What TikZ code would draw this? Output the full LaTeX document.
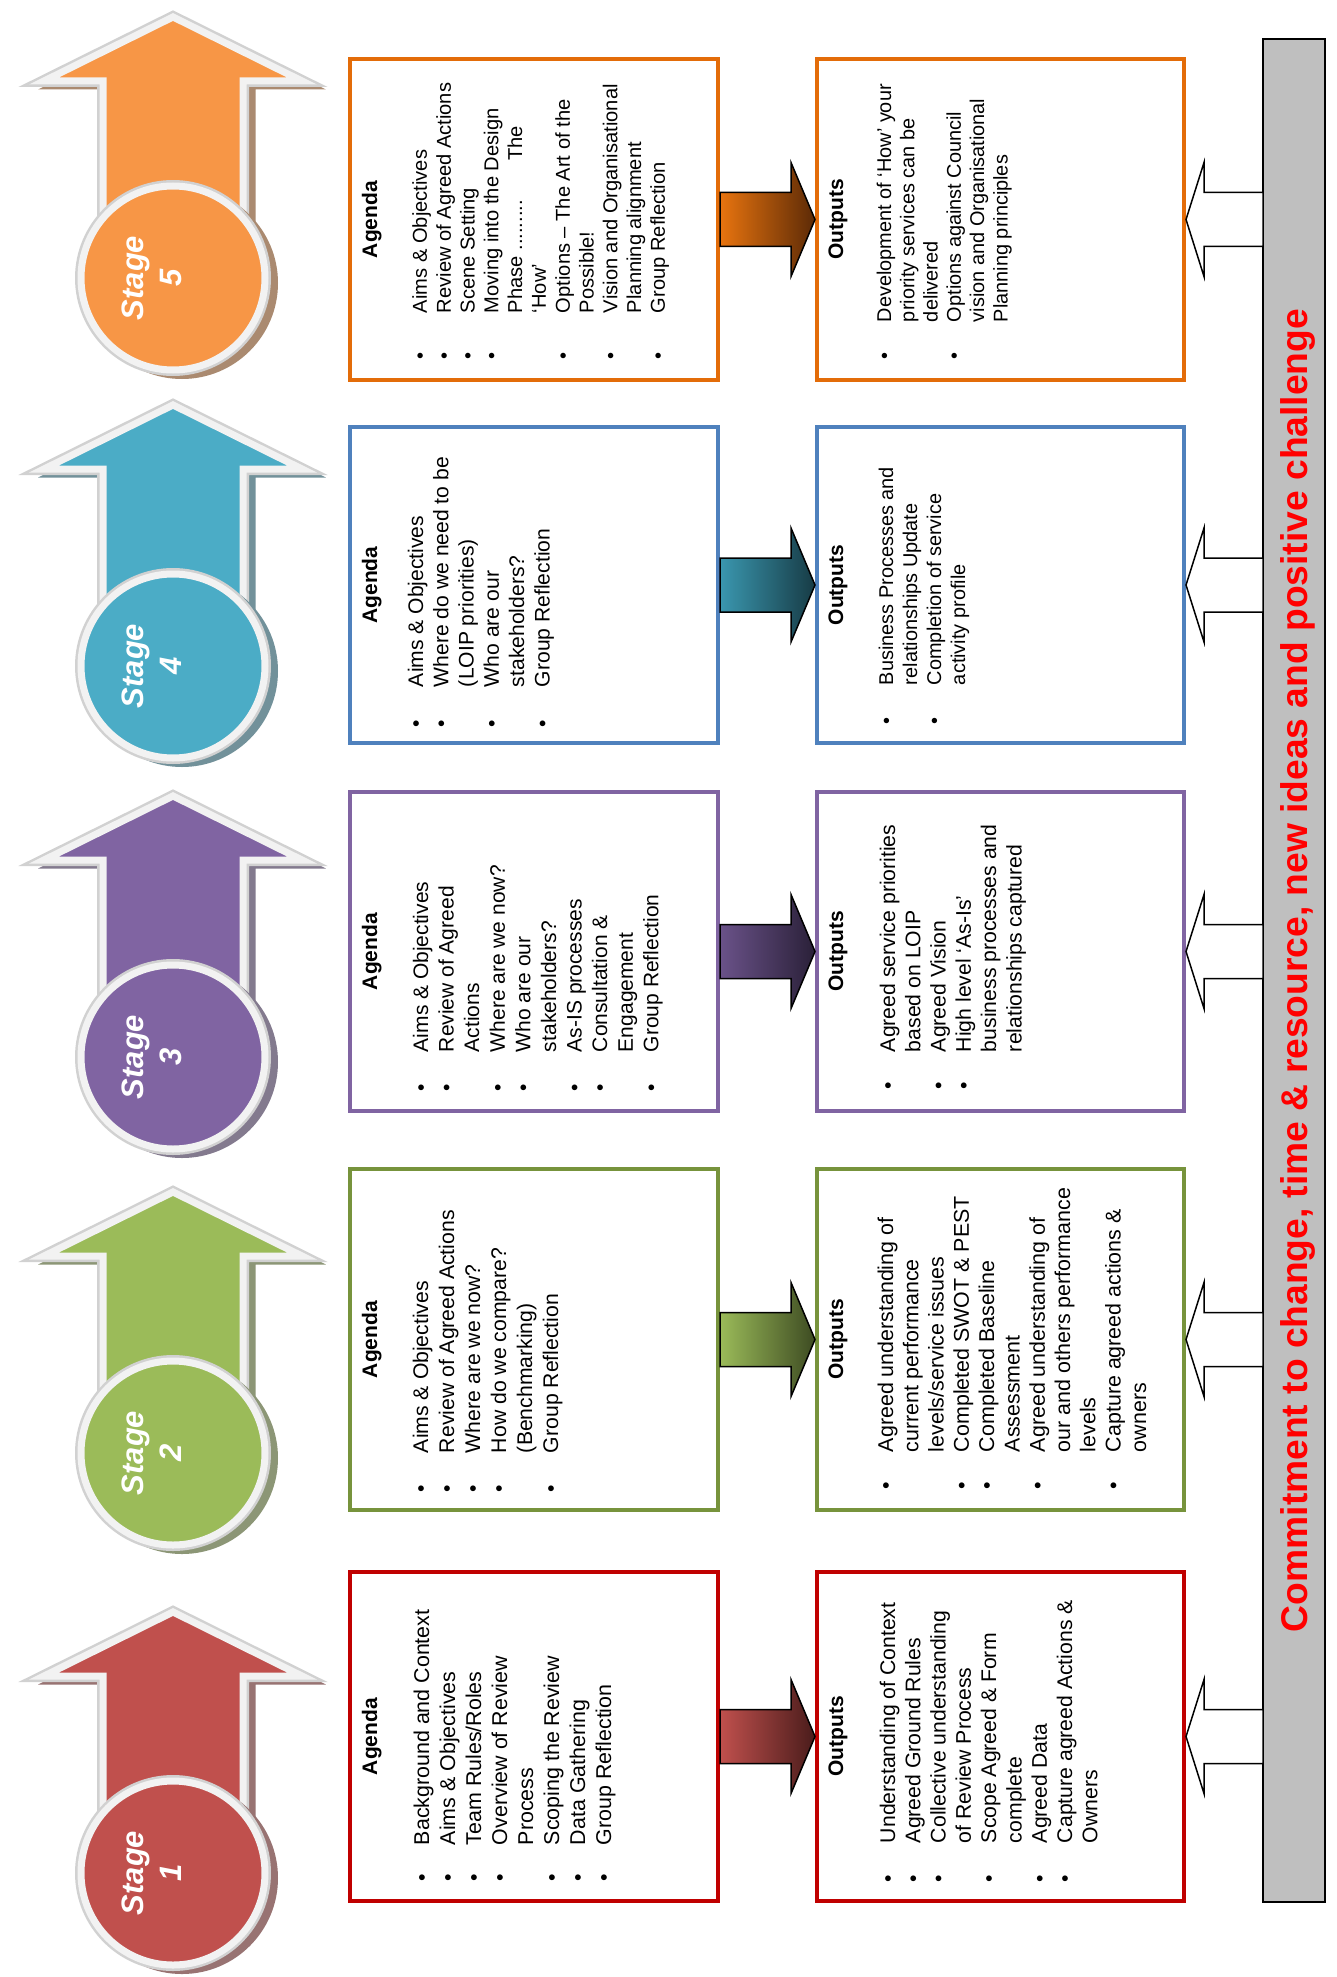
\documentclass[tikz,border=0pt]{standalone}
\usepackage{fontspec}
\setmainfont{Liberation Sans}
\usetikzlibrary{calc}
\definecolor{b1}{HTML}{C00000}
\definecolor{b2}{HTML}{77933C}
\definecolor{b3}{HTML}{8064A2}
\definecolor{b4}{HTML}{4F81BD}
\definecolor{b5}{HTML}{E36C09}
\definecolor{s1}{HTML}{C0504D}
\definecolor{s2}{HTML}{9BBB59}
\definecolor{s3}{HTML}{8064A2}
\definecolor{s4}{HTML}{4BACC6}
\definecolor{s5}{HTML}{F79646}
\definecolor{g1a}{HTML}{C0504D}\definecolor{g1b}{HTML}{4A1C1B}
\definecolor{g2a}{HTML}{9BBB59}\definecolor{g2b}{HTML}{3D4B22}
\definecolor{g3a}{HTML}{6A5289}\definecolor{g3b}{HTML}{2A2038}
\definecolor{g4a}{HTML}{3A97AF}\definecolor{g4b}{HTML}{173B45}
\definecolor{g5a}{HTML}{E8740F}\definecolor{g5b}{HTML}{5C2A06}
\newlength\bind
\newcommand\bu{\makebox[\bind][l]{\textbullet}}
% list node: name, x, y, fontsize, baselineskip, indent, rows
\newcommand\blist[7]{%
  \node[rotate=90, anchor=north west, inner sep=0pt, outer sep=0pt,
        font=\fontsize{#4}{#5}\selectfont] (#1) at (#2,#3)
        {\setlength\bind{#6pt}\begin{tabular}{@{}l@{}l@{}}#7\end{tabular}};}
\newcommand\bhead[4]{%
  \node[rotate=90, anchor=base, inner sep=0pt,
        font=\bfseries\fontsize{21}{25}\selectfont] (#1) at (#2,#3) {#4};}
% coloured arrow from box to box
\newcommand\rarrow[3]{%
  \path[left color=#3a, right color=#3b, draw=black, line width=1.5pt]
    let \p1=($(#1)+(2,0)$), \p2=($(#2)+(-2,0)$) in
    (\x1,\y2+27pt) -- (\x2-24pt,\y2+27pt) -- (\x2-24pt,\y2+57pt) -- (\x2,\y2)
    -- (\x2-24pt,\y2-57pt) -- (\x2-24pt,\y2-27pt) -- (\x1,\y2-27pt) -- cycle;}
% hollow arrow from bar to output box
\newcommand\larrow[2]{%
  \path[fill=white, draw=black, line width=1.5pt]
    let \p1=(#1), \p2=($(#2)+(2,0)$) in
    (\x1,\y2+27pt) -- (\x2+18pt,\y2+27pt) -- (\x2+18pt,\y2+57pt) -- (\x2,\y2)
    -- (\x2+18pt,\y2-57pt) -- (\x2+18pt,\y2-27pt) -- (\x1,\y2-27pt) -- cycle;}
\newcommand\arrshape{(0,-261) -- (129,-197) -- (70,-197) -- (70,-40) -- (-70,-40) -- (-70,-197) -- (-129,-197) -- cycle}
% stage: number, cy, colour
\newcommand\stagepic[3]{%
  \begin{scope}[shift={(173,#2)}]
    \path[fill=#3!50!black!65, shift={(9,5)}, draw=#3!50!black!65, line width=7pt, line join=miter] \arrshape;
    \path[draw=black!18, line width=12pt, line join=miter] \arrshape;
    \path[fill=#3, draw=white!95!black, line width=7pt, line join=miter] \arrshape;
    \fill[#3!50!black!65] (9,5) circle (96);
    \fill[black!18] (0,0) circle (98);
  \end{scope}
  \node[circle, fill=#3, draw=white!95!black, line width=7pt, minimum size=184pt,
        inner sep=0pt, outer sep=0pt] (st#1) at (173,#2) {};
  \node[rotate=90, text=white, align=center, inner sep=0pt,
        font=\bfseries\itshape\fontsize{31}{38}\selectfont] (sl#1) at (152,#2) {Stage\\#1};}
\tikzset{bx/.style={draw=#1, line width=4pt, fill=white, inner sep=0pt, outer sep=0pt, rectangle}}
\begin{document}
\begin{tikzpicture}[x=1pt,y=-1pt]
\useasboundingbox[fill=white] (0,0) rectangle (1337,1977);
% stage arrows
\stagepic{1}{1873}{s1}
\stagepic{2}{1453}{s2}
\stagepic{3}{1057}{s3}
\stagepic{4}{666}{s4}
\stagepic{5}{278}{s5}
% boxes
\node[bx=b1, minimum width=368pt, minimum height=329pt] (a1) at (534,1736.5) {};
\node[bx=b1, minimum width=367pt, minimum height=329pt] (o1) at (1000.5,1736.5) {};
\node[bx=b2, minimum width=368pt, minimum height=341pt] (a2) at (534,1339.5) {};
\node[bx=b2, minimum width=367pt, minimum height=341pt] (o2) at (1000.5,1339.5) {};
\node[bx=b3, minimum width=368pt, minimum height=319pt] (a3) at (534,951.5) {};
\node[bx=b3, minimum width=367pt, minimum height=319pt] (o3) at (1000.5,951.5) {};
\node[bx=b4, minimum width=368pt, minimum height=316pt] (a4) at (534,585) {};
\node[bx=b4, minimum width=367pt, minimum height=316pt] (o4) at (1000.5,585) {};
\node[bx=b5, minimum width=368pt, minimum height=321pt] (a5) at (534,219.5) {};
\node[bx=b5, minimum width=367pt, minimum height=321pt] (o5) at (1000.5,219.5) {};
% headers
\bhead{ah1}{377}{1736.5}{Agenda}
\bhead{oh1}{843}{1736.5}{Outputs}
\bhead{ah2}{377}{1339.5}{Agenda}
\bhead{oh2}{843}{1339.5}{Outputs}
\bhead{ah3}{377}{951.5}{Agenda}
\bhead{oh3}{843}{951.5}{Outputs}
\bhead{ah4}{377}{585}{Agenda}
\bhead{oh4}{843}{585}{Outputs}
\bhead{ah5}{377}{219.5}{Agenda}
\bhead{oh5}{843}{219.5}{Outputs}
% lists
\blist{al1}{410.8}{1881}{21.4}{26}{36}{%
\bu & Background and Context\\
\bu & Aims \& Objectives\\
\bu & Team Rules/Roles\\
\bu & Overview of Review\\
 & Process\\
\bu & Scoping the Review\\
\bu & Data Gathering\\
\bu & Group Reflection}
\blist{ol1}{877.3}{1882}{21.2}{25.3}{39}{%
\bu & Understanding of Context\\
\bu & Agreed Ground Rules\\
\bu & Collective understanding\\
 & of Review Process\\
\bu & Scope Agreed \& Form\\
 & complete\\
\bu & Agreed Data\\
\bu & Capture agreed Actions \&\\
 & Owners}
\blist{al2}{409.8}{1492}{21.2}{26}{39}{%
\bu & Aims \& Objectives\\
\bu & Review of Agreed Actions\\
\bu & Where are we now?\\
\bu & How do we compare?\\
 & (Benchmarking)\\
\bu & Group Reflection}
\blist{ol2}{875.3}{1489}{21.4}{25.3}{37}{%
\bu & Agreed understanding of\\
 & current performance\\
 & levels/service issues\\
\bu & Completed SWOT \& PEST\\
\bu & Completed Baseline\\
 & Assessment\\
\bu & Agreed understanding of\\
 & our and others performance\\
 & levels\\
\bu & Capture agreed actions \&\\
 & owners}
\blist{al3}{410.1}{1091}{21}{25.6}{39}{%
\bu & Aims \& Objectives\\
\bu & Review of Agreed\\
 & Actions\\
\bu & Where are we now?\\
\bu & Who are our\\
 & stakeholders?\\
\bu & As-IS processes\\
\bu & Consultation \&\\
 & Engagement\\
\bu & Group Reflection}
\blist{ol3}{877.3}{1089}{21.2}{25.3}{37}{%
\bu & Agreed service priorities\\
 & based on LOIP\\
\bu & Agreed Vision\\
\bu & High level ‘As-Is’\\
 & business processes and\\
 & relationships captured}
\blist{al4}{405.3}{727}{21.1}{25.3}{40}{%
\bu & Aims \& Objectives\\
\bu & Where do we need to be\\
 & (LOIP priorities)\\
\bu & Who are our\\
 & stakeholders?\\
\bu & Group Reflection}
\blist{ol4}{876.2}{724}{19.9}{24}{39}{%
\bu & Business Processes and\\
 & relationships Update\\
\bu & Completion of service\\
 & activity profile}
\blist{al5}{410.3}{359}{20.1}{23.8}{46}{%
\bu & Aims \& Objectives\\
\bu & Review of Agreed Actions\\
\bu & Scene Setting\\
\bu & Moving into the Design\\
 & \makebox[187pt][l]{Phase .........\hfill The}\\
 & ‘How’\\
\bu & Options – The Art of the\\
 & Possible!\\
\bu & Vision and Organisational\\
 & Planning alignment\\
\bu & Group Reflection}
\blist{ol5}{874.7}{359}{19.9}{23.3}{37}{%
\bu & Development of ‘How’ your\\
 & priority services can be\\
 & delivered\\
\bu & Options against Council\\
 & vision and Organisational\\
 & Planning principles}
% coloured arrows
\rarrow{a1.east}{o1.west}{g1}
\rarrow{a2.east}{o2.west}{g2}
\rarrow{a3.east}{o3.west}{g3}
\rarrow{a4.east}{o4.west}{g4}
\rarrow{a5.east}{o5.west}{g5}
% bar and hollow arrows
\node[draw=black, line width=2pt, fill=black!25, minimum width=62pt, minimum height=1863pt,
      inner sep=0pt, outer sep=0pt] (bar) at (1294,970.5) {};
\larrow{bar.west}{o1.east}
\larrow{bar.west}{o2.east}
\larrow{bar.west}{o3.east}
\larrow{bar.west}{o4.east}
\larrow{bar.west}{o5.east}
\node[rotate=90, anchor=base, inner sep=0pt, text=red,
      font=\bfseries\fontsize{37.2}{40}\selectfont] (bt) at (1307,970.5)
      {Commitment to change, time \& resource, new ideas and positive challenge};
\end{tikzpicture}
\end{document}
